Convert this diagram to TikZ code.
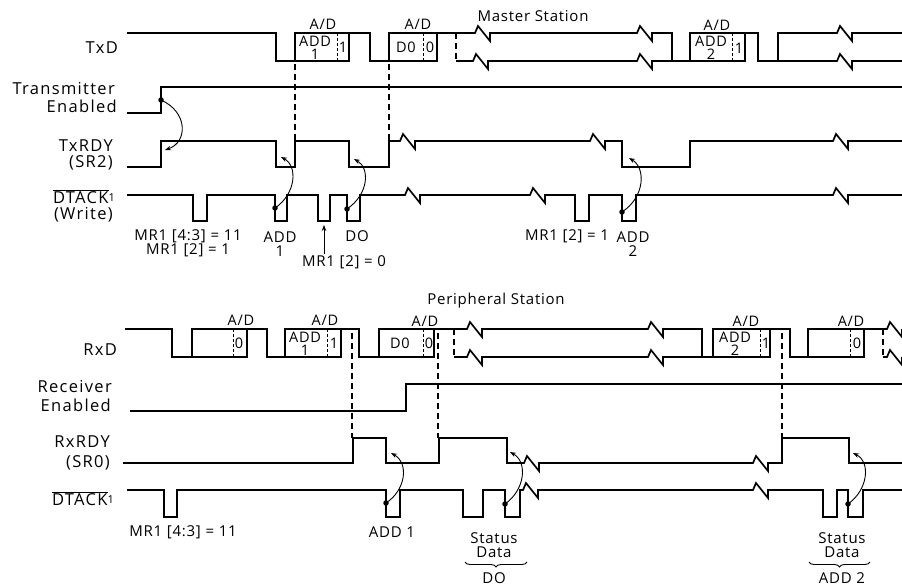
\documentclass[tikz,border=0pt]{standalone}
\usepackage{fontspec}
\setmainfont{Open Sans}
\newfontfamily\lfnt[LetterSpace=8]{Open Sans}
\newfontfamily\afnt[LetterSpace=5]{Open Sans}
\usetikzlibrary{arrows.meta,decorations.pathreplacing}
\newcommand\dtk{\(\overline{\mbox{DTACK}}\)\raisebox{2pt}{\fontsize{11}{11}\selectfont 1}}
\begin{document}
\begin{tikzpicture}[x=1pt,y=-1pt,
  sig/.style={line width=1.7pt, line join=miter},
  dsh/.style={line width=1.1pt, dash pattern=on 6pt off 4pt},
  dv/.style={line width=0.9pt, dash pattern=on 3pt off 2pt},
  zz/.style={insert path={-- ++(3,-7) -- ++(12,15) -- ++(0,-8)}},
  lbl/.style={font=\lfnt\fontsize{16.5}{17}\selectfont, anchor=east, inner sep=0},
  ann/.style={font=\afnt\fontsize{15}{13}\selectfont, align=center, inner sep=0},
  ann3/.style={font=\afnt\fontsize{15}{14.5}\selectfont, align=center, inner sep=0},
  ann2/.style={font=\afnt\fontsize{15}{13.5}\selectfont, align=center, inner sep=0},
  bx/.style={font=\afnt\fontsize{14.5}{13}\selectfont, align=center, inner sep=0},
  dot/.style={circle, fill, inner sep=0, minimum size=5.5pt},
  cur/.style={line width=0.9pt, -{Stealth[length=6pt,width=4.5pt]}},
  brc/.style={decorate, decoration={brace, mirror, amplitude=5pt}, line width=0.9pt}
]
\useasboundingbox (0,0) rectangle (902,588);

% ---------- titles ----------
\node[ann] (ms) at (533,16) {Master Station};
\node[ann] (ps) at (496,301) {Peripheral Station};

% ---------- left labels ----------
\node[lbl] (l1) at (118,48) {TxD};
\node[lbl] (l2) at (115,89) {Transmitter};
\node[lbl] (l3) at (117,106) {Enabled};
\node[lbl] (l4) at (113,146) {TxRDY};
\node[lbl] (l5) at (113,163) {(SR2)};
\node[lbl] (l6) at (115,197) {\dtk};
\node[lbl] (l7) at (113,215) {(Write)};
\node[lbl] (l8) at (117,350) {RxD};
\node[lbl] (l9) at (112,387) {Receiver};
\node[lbl] (l10) at (111,405) {Enabled};
\node[lbl] (l11) at (110,442) {RxRDY};
\node[lbl] (l12) at (110,463) {(SR0)};
\node[lbl] (l13) at (114,499) {\dtk};

% ---------- MASTER: TxD ----------
\draw[sig] (127,33) -- (276,33) -- (276,61) -- (295,61) -- (295,33) -- (370,33) -- (370,61) -- (389,61) -- (389,33) -- (475,33) [zz] -- (637,33) [zz] -- (672,33) -- (672,61);
\draw[sig] (295,61) -- (349,61) -- (349,33);
\draw[sig] (389,61) -- (437,61) -- (437,33);
\draw[dsh] (456,33) -- (456,61);
\draw[sig] (456,61) -- (473,61) [zz] -- (637,61) [zz] -- (690,61) -- (690,33) -- (758,33) -- (758,61) -- (778,61) -- (778,33) -- (837,33) [zz] -- (902,33);
\draw[sig] (690,61) -- (745,61) -- (745,33);
\draw[sig] (778,61) -- (837,61) [zz] -- (902,61);
% frame texts
\node[bx] (m1) at (323,24) {A/D};
\node[bx] (m2) at (418,24) {A/D};
\node[bx] (m3) at (717,25) {A/D};
\node[bx] (f1a) at (315,48) {ADD\\1};
\draw[dv] (337,33) -- (337,61);
\node[bx] (f1c) at (343,47) {1};
\node[bx] (f2a) at (406,47) {D0};
\draw[dv] (423,33) -- (423,61);
\node[bx] (f2b) at (430,47) {0};
\node[bx] (f3a) at (711,48) {ADD\\2};
\draw[dv] (732,33) -- (732,61);
\node[bx] (f3c) at (739,48) {1};
% long dashes
\draw[dsh] (295,64) -- (295,141);
\draw[dsh] (389,64) -- (389,141);

% ---------- Transmitter Enabled ----------
\draw[sig] (127,113) -- (161,113) -- (161,87) -- (902,87);

% ---------- TxRDY ----------
\draw[sig] (127,167) -- (161,167) -- (161,141) -- (276,141) -- (276,167) -- (295,167) -- (295,141) -- (349,141) -- (349,167) -- (389,167) -- (389,141) -- (400,141) [zz] -- (590,141) [zz] -- (622,141) -- (622,167) -- (690,167) -- (690,141) -- (833,141) [zz] -- (902,141);

% ---------- DTACK (Write) ----------
\draw[sig] (127,195) -- (193,195) -- (193,221) -- (207,221) -- (207,195) -- (275,195) -- (275,221) -- (287,221) -- (287,195) -- (318,195) -- (318,221) -- (330,221) -- (330,195) -- (347,195) -- (347,221) -- (360,221) -- (360,195) -- (405,195) [zz] -- (530,195) [zz] -- (575,195) -- (575,221) -- (589,221) -- (589,195) -- (622,195) -- (622,221) -- (636,221) -- (636,195) -- (833,195) [zz] -- (902,195);

% dots and cause arrows (master)
\node[dot] (d1) at (161,100) {};
\node[dot] (d2) at (275,208) {};
\node[dot] (d3) at (347,209) {};
\node[dot] (d4) at (622,212) {};
\coordinate (a1) at (165,150);
\coordinate (a2) at (281,157);
\coordinate (a3) at (354,159);
\coordinate (a4) at (629,158);
\draw[cur] (d1.center) .. controls (188,112) and (188,142) .. (a1);
\draw[cur] (d2.center) .. controls (296,194) and (298,166) .. (a2);
\draw[cur] (d3.center) .. controls (369,194) and (370,168) .. (a3);
\draw[cur] (d4.center) .. controls (645,197) and (646,168) .. (a4);

% master annotations
\node[ann] (n1) at (188,243) {MR1 [4:3] = 11\\MR1 [2] = 1};
\node[ann3] (n3) at (280,244) {ADD\\1};
\node[ann] (n5) at (344,262) {MR1 [2] = 0};
\coordinate (u1) at (324,225);
\draw[cur, line width=0.8pt] (n5.north -| u1) ++(0,-1) -- (u1);
\node[ann] (n6) at (357,236) {DO};
\node[ann] (n7) at (567,236) {MR1 [2] = 1};
\node[ann3] (n8) at (633,244) {ADD\\2};

% ---------- PERIPHERAL: RxD ----------
\draw[sig] (125,329) -- (172,329) -- (172,357) -- (192,357) -- (192,329) -- (267,329) -- (267,357) -- (285,357) -- (285,329) -- (359,329) -- (359,357) -- (379,357) -- (379,329) -- (467,329) [zz] -- (648,329) [zz] -- (702,329) -- (702,357);
\draw[sig] (192,357) -- (247,357) -- (247,329);
\draw[sig] (285,357) -- (341,357) -- (341,329);
\draw[sig] (379,357) -- (434,357) -- (434,329);
\draw[dsh] (454,329) -- (454,357);
\draw[sig] (454,357) -- (467,357) [zz] -- (648,357) [zz] -- (713,357) -- (713,329) -- (790,329) -- (790,357) -- (808,357) -- (808,329) -- (887,329) [zz];
\draw[sig] (713,357) -- (770,357) -- (770,329);
\draw[sig] (808,357) -- (864,357) -- (864,329);
\draw[dsh] (883,329) -- (883,357);
\draw[sig] (883,357) -- (887,357) [zz];
% frame texts
\node[bx] (p1) at (241,320) {A/D};
\node[bx] (p2) at (325,320) {A/D};
\node[bx] (p3) at (425,321) {A/D};
\node[bx] (p4) at (746,321) {A/D};
\node[bx] (p5) at (851,321) {A/D};
\draw[dv] (233,329) -- (233,357);
\node[bx] (g1) at (239,343) {0};
\node[bx] (g2a) at (305,344) {ADD\\1};
\draw[dv] (327,329) -- (327,357);
\node[bx] (g2c) at (334,343) {1};
\node[bx] (g3a) at (400,343) {D0};
\draw[dv] (423,329) -- (423,357);
\node[bx] (g3b) at (429,343) {0};
\node[bx] (g4a) at (735,344) {ADD\\2};
\draw[dv] (760,329) -- (760,357);
\node[bx] (g4c) at (766,343) {1};
\draw[dv] (850,329) -- (850,357);
\node[bx] (g5) at (857,343) {0};
% long dashes
\draw[dsh] (352,333) -- (352,438);
\draw[dsh] (438,333) -- (438,438);
\draw[dsh] (782,333) -- (782,438);

% ---------- Receiver Enabled ----------
\draw[sig] (130,411) -- (406,411) -- (406,384) -- (902,384);

% ---------- RxRDY ----------
\draw[sig] (123,463) -- (353,463) -- (353,438) -- (386,438) -- (386,463) -- (439,463) -- (439,438) -- (507,438) -- (507,463) -- (524,463) [zz] -- (753,463) [zz] -- (782,463) -- (782,438) -- (849,438) -- (849,463) -- (902,463);

% ---------- DTACK (peripheral) ----------
\draw[sig] (127,490) -- (164,490) -- (164,517) -- (177,517) -- (177,490) -- (386,490) -- (386,517) -- (400,517) -- (400,490) -- (463,490) -- (463,517) -- (483,517) -- (483,490) -- (505,490) -- (505,517) -- (520,517) -- (520,490) -- (523,490) [zz] -- (753,490) [zz] -- (823,490) -- (823,517) -- (837,517) -- (837,490) -- (848,490) -- (848,517) -- (863,517) -- (863,490) -- (902,490);

% dots and cause arrows (peripheral)
\node[dot] (e1) at (386,503) {};
\node[dot] (e2) at (505,504) {};
\node[dot] (e3) at (848,504) {};
\coordinate (b1) at (391,453);
\coordinate (b2) at (510,452);
\coordinate (b3) at (853,453);
\draw[cur] (e1.center) .. controls (406,490) and (409,463) .. (b1);
\draw[cur] (e2.center) .. controls (525,490) and (528,462) .. (b2);
\draw[cur] (e3.center) .. controls (868,490) and (871,462) .. (b3);

% peripheral annotations
\node[ann] (q1) at (183,532) {MR1 [4:3] = 11};
\node[ann] (q2) at (392,532) {ADD 1};
\node[ann2] (q3) at (494,545) {Status\\Data};
\coordinate (k1) at (465,562);
\coordinate (k2) at (527,562);
\draw[brc] (k1) -- (k2);
\node[ann] (q5) at (494,578) {DO};
\node[ann2] (q6) at (842,545) {Status\\Data};
\coordinate (k3) at (809,562);
\coordinate (k4) at (870,562);
\draw[brc] (k3) -- (k4);
\node[ann] (q8) at (842,578) {ADD 2};
\end{tikzpicture}
\end{document}
